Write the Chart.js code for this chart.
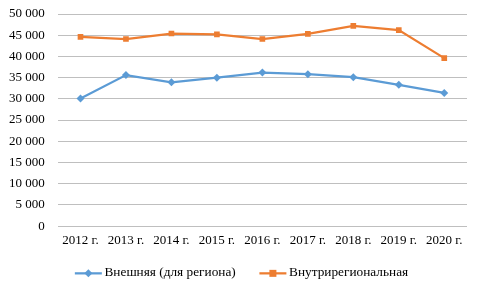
<!DOCTYPE html>
<html>
<head>
<meta charset="utf-8">
<script src="https://cdn.jsdelivr.net/npm/chart.js@4"></script>
<style>
  html, body { margin: 0; padding: 0; background: #fff; }
  #wrap { width: 481px; height: 288px; }
</style>
</head>
<body>
<div id="wrap"><canvas id="chart" width="481" height="288"></canvas></div>
<script>
const years = ['2012 г.', '2013 г.', '2014 г.', '2015 г.', '2016 г.', '2017 г.', '2018 г.', '2019 г.', '2020 г.'];
const external = [30100, 35600, 33900, 35000, 36200, 35800, 35100, 33300, 31400];
const intraregional = [44600, 44100, 45400, 45200, 44100, 45300, 47200, 46200, 39600];

const blue = '#5B9BD5';
const orange = '#ED7D31';

// legend: nudge it into place, then draw a line with a marker in the middle
const legendMarkers = {
    id: 'legendMarkers',
    afterLayout(chart) {
        const legend = chart.legend;
        if (!legend) return;
        const dx = 5, dy = 1;
        legend.left += dx; legend.right += dx;
        legend.top += dy; legend.bottom += dy;
        (legend.legendHitBoxes || []).forEach(b => { b.left += dx; b.top += dy; });
    },
    afterDraw(chart) {
        const legend = chart.legend;
        if (!legend || !legend.legendHitBoxes) return;
        const ctx = chart.ctx;
        legend.legendHitBoxes.forEach((box, i) => {
            const ds = chart.data.datasets[i];
            const x0 = box.left - 2;
            const x1 = box.left + 25;
            const cx = (x0 + x1) / 2;
            const cy = box.top + box.height / 2;
            ctx.save();
            ctx.strokeStyle = ds.borderColor;
            ctx.lineWidth = 2.25;
            ctx.beginPath();
            ctx.moveTo(x0, cy);
            ctx.lineTo(x1, cy);
            ctx.stroke();
            ctx.fillStyle = ds.borderColor;
            ctx.beginPath();
            if (ds.pointStyle === 'rectRot') {
                ctx.moveTo(cx, cy - 4);
                ctx.lineTo(cx + 4, cy);
                ctx.lineTo(cx, cy + 4);
                ctx.lineTo(cx - 4, cy);
            } else {
                ctx.rect(cx - 3.5, cy - 3.5, 7, 7);
            }
            ctx.closePath();
            ctx.fill();
            ctx.restore();
        });
    }
};

const ctx = document.getElementById('chart').getContext('2d');
new Chart(ctx, {
    type: 'line',
    data: {
        labels: years,
        datasets: [{
            label: 'Внешняя (для региона)',
            data: external,
            borderColor: blue,
            backgroundColor: blue,
            borderWidth: 2.25,
            pointStyle: 'rectRot',
            pointRadius: 4,
            pointBorderWidth: 0,
            tension: 0
        }, {
            label: 'Внутрирегиональная',
            data: intraregional,
            borderColor: orange,
            backgroundColor: orange,
            borderWidth: 2.25,
            pointStyle: 'rect',
            pointRadius: 4,
            pointBorderWidth: 0,
            tension: 0
        }]
    },
    options: {
        responsive: false,
        animation: false,
        layout: { padding: { left: 8, right: 14, top: 14, bottom: 0 } },
        scales: {
            x: {
                offset: true,
                grid: { display: false, drawTicks: false },
                border: { display: false },
                ticks: {
                    color: '#000',
                    font: { family: 'Liberation Serif', size: 13 },
                    maxRotation: 0,
                    autoSkip: false,
                    padding: 7
                }
            },
            y: {
                min: 0,
                max: 50000,
                grid: {
                    color: '#BFBFBF',
                    lineWidth: 1,
                    drawTicks: true,
                    tickLength: 12,
                    tickColor: 'rgba(0,0,0,0)'
                },
                border: { display: false },
                ticks: {
                    stepSize: 5000,
                    color: '#000',
                    padding: 1,
                    font: { family: 'Liberation Serif', size: 13 },
                    callback: v => String(v).replace(/\B(?=(\d{3})+(?!\d))/g, ' ')
                }
            }
        },
        plugins: {
            legend: {
                position: 'bottom',
                labels: {
                    boxWidth: 21,
                    boxHeight: 2,
                    color: '#000',
                    padding: 9,
                    font: { family: 'Liberation Serif', size: 13.3 },
                    generateLabels: chart => chart.data.datasets.map((ds, i) => ({
                        // trailing spaces widen the gap between the two items
                        text: i === 0 ? ds.label + '     ' : ds.label,
                        fillStyle: 'rgba(0,0,0,0)',
                        strokeStyle: 'rgba(0,0,0,0)',
                        lineWidth: 0,
                        fontColor: '#000',
                        datasetIndex: i
                    }))
                }
            },
            tooltip: { enabled: false }
        }
    },
    plugins: [legendMarkers]
});
</script>
</body>
</html>
